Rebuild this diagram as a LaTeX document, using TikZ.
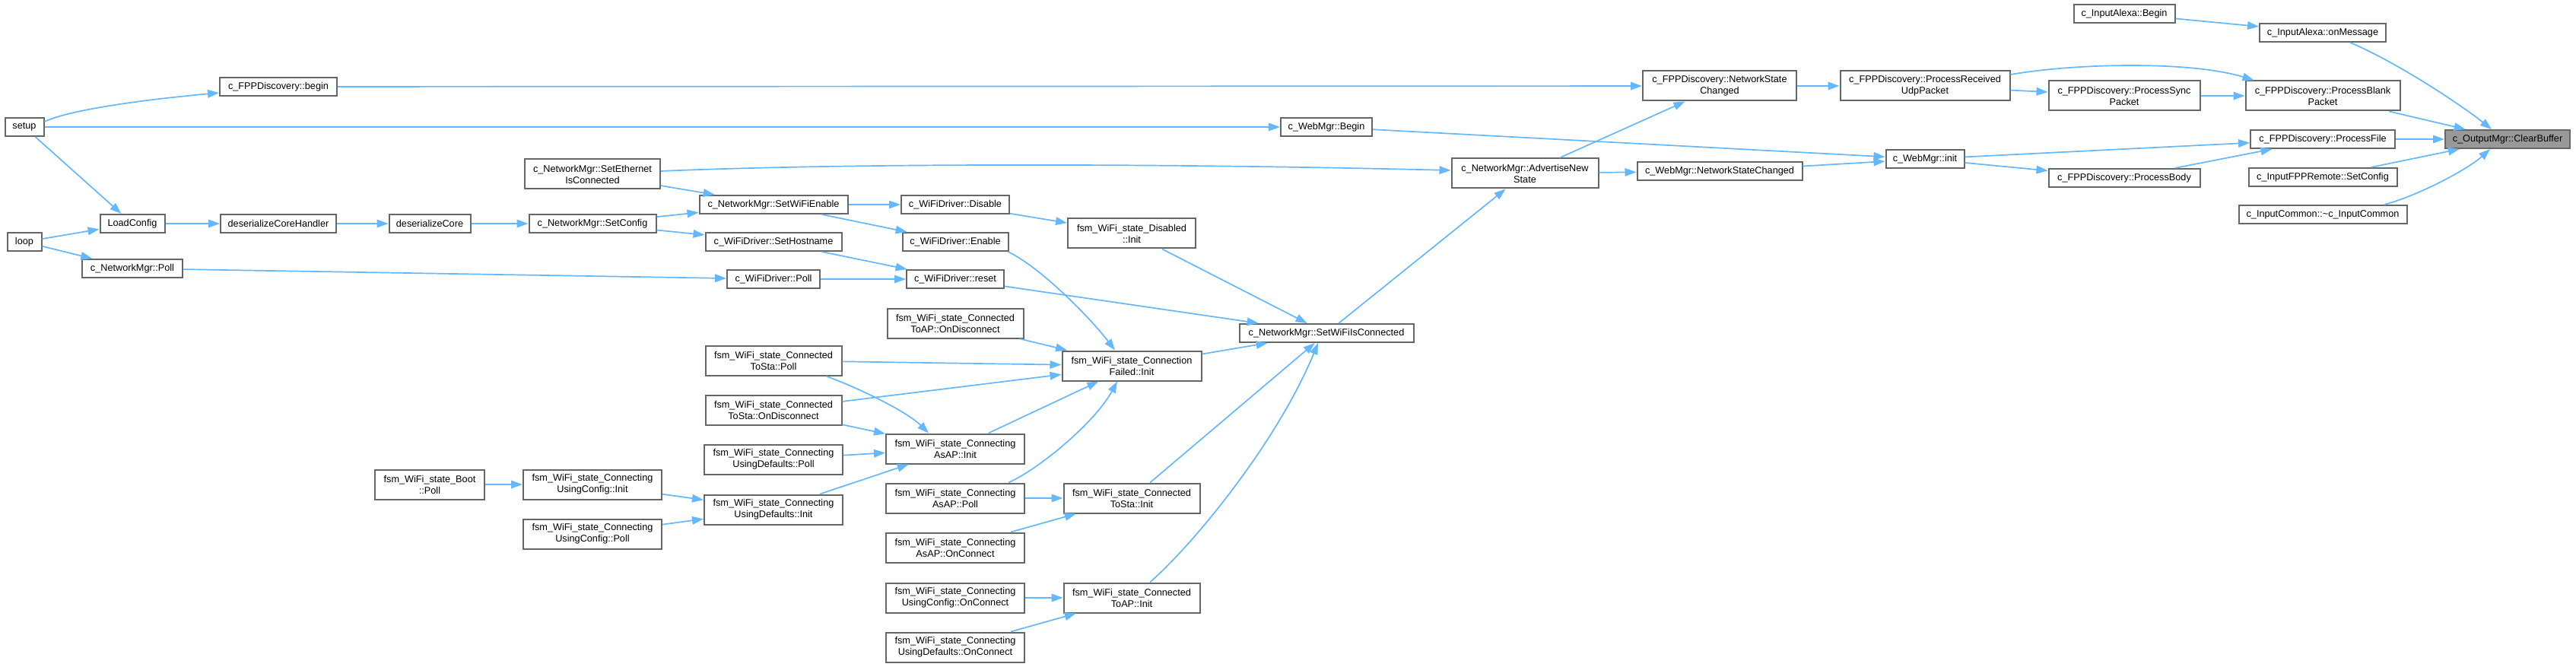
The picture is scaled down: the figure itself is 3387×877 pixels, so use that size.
\documentclass[tikz,border=0pt]{standalone}
\usepackage{fontspec}
\setmainfont{Liberation Sans}
\usetikzlibrary{arrows.meta,calc}
\definecolor{edgeblue}{HTML}{63B8FF}
\definecolor{boxgray}{HTML}{666666}
\definecolor{hlfill}{HTML}{999999}
\begin{document}
\begin{tikzpicture}[x=1pt,y=-1pt,
  fn/.style={draw=boxgray,line width=2pt,fill=white,inner sep=0pt,align=center,
    minimum height=24pt,font=\fontsize{12.7}{15}\selectfont},
  fnt/.style={fn,minimum height=39pt},
  hl/.style={fn,fill=hlfill},
  call/.style={draw=edgeblue,line width=1.7pt,-{Triangle[length=15pt,width=10.5pt]}}
]
\useasboundingbox[fill=white] (0,0) rectangle (3387,877);

% column 0-1
\node[fn,minimum width=51pt] (setup) at (32,167) {setup};
\node[fn,minimum width=45pt] (loop) at (32,318) {loop};
\node[fn,minimum width=85pt] (loadcfg) at (174,294) {LoadConfig};
\node[fn,minimum width=132pt] (nmpoll) at (174,353) {c\_NetworkMgr::Poll};
% column 2
\node[fn,minimum width=154pt] (fppbegin) at (366,114) {c\_FPPDiscovery::begin};
\node[fn,minimum width=152pt] (dch) at (366,294) {deserializeCoreHandler};
\node[fn,minimum width=107pt] (dc) at (565,294) {deserializeCore};
\node[fnt,minimum width=144pt] (bootpoll) at (565,637) {fsm\_WiFi\_state\_Boot\\::Poll};
% column 3
\node[fnt,minimum width=178pt] (seteth) at (779,229) {c\_NetworkMgr::SetEthernet\\IsConnected};
\node[fn,minimum width=167pt] (setcfg) at (779,294) {c\_NetworkMgr::SetConfig};
\node[fnt,minimum width=182pt] (ucinit) at (779,637) {fsm\_WiFi\_state\_Connecting\\UsingConfig::Init};
\node[fnt,minimum width=182pt] (ucpoll) at (779,702) {fsm\_WiFi\_state\_Connecting\\UsingConfig::Poll};
% column 4
\node[fn,minimum width=195pt] (wifien) at (1017,269) {c\_NetworkMgr::SetWiFiEnable};
\node[fn,minimum width=179pt] (sethost) at (1017,318) {c\_WiFiDriver::SetHostname};
\node[fn,minimum width=122pt] (wdpoll) at (1017,367) {c\_WiFiDriver::Poll};
\node[fnt,minimum width=179pt] (ctspoll) at (1017,474) {fsm\_WiFi\_state\_Connected\\ToSta::Poll};
\node[fnt,minimum width=179pt] (ctsdisc) at (1017,539) {fsm\_WiFi\_state\_Connected\\ToSta::OnDisconnect};
\node[fnt,minimum width=182pt] (udpoll) at (1017,604) {fsm\_WiFi\_state\_Connecting\\UsingDefaults::Poll};
\node[fnt,minimum width=182pt] (udinit) at (1017,670) {fsm\_WiFi\_state\_Connecting\\UsingDefaults::Init};
% column 5
\node[fn,minimum width=142pt] (disable) at (1256,269) {c\_WiFiDriver::Disable};
\node[fn,minimum width=139pt] (enable) at (1256,318) {c\_WiFiDriver::Enable};
\node[fn,minimum width=128pt] (reset) at (1256,367) {c\_WiFiDriver::reset};
\node[fnt,minimum width=179pt] (ctapdisc) at (1256,425) {fsm\_WiFi\_state\_Connected\\ToAP::OnDisconnect};
\node[fnt,minimum width=182pt] (asapinit) at (1256,590) {fsm\_WiFi\_state\_Connecting\\AsAP::Init};
\node[fnt,minimum width=182pt] (asappoll) at (1256,655) {fsm\_WiFi\_state\_Connecting\\AsAP::Poll};
\node[fnt,minimum width=182pt] (asapconn) at (1256,720) {fsm\_WiFi\_state\_Connecting\\AsAP::OnConnect};
\node[fnt,minimum width=182pt] (ucconn) at (1256,786) {fsm\_WiFi\_state\_Connecting\\UsingConfig::OnConnect};
\node[fnt,minimum width=182pt] (udconn) at (1256,851) {fsm\_WiFi\_state\_Connecting\\UsingDefaults::OnConnect};
% column 6
\node[fnt,minimum width=168pt] (disinit) at (1488,307) {fsm\_WiFi\_state\_Disabled\\::Init};
\node[fnt,minimum width=183pt] (cfinit) at (1488,481) {fsm\_WiFi\_state\_Connection\\Failed::Init};
\node[fnt,minimum width=179pt] (ctsinit) at (1488,655) {fsm\_WiFi\_state\_Connected\\ToSta::Init};
\node[fnt,minimum width=179pt] (ctapinit) at (1488,786) {fsm\_WiFi\_state\_Connected\\ToAP::Init};
% column 7-8
\node[fn,minimum width=120pt] (webbegin) at (1744,167) {c\_WebMgr::Begin};
\node[fn,minimum width=229pt] (wifiis) at (1744,438) {c\_NetworkMgr::SetWiFiIsConnected};
\node[fnt,minimum width=193pt] (adv) at (2005,228) {c\_NetworkMgr::AdvertiseNew\\State};
% column 9-10
\node[fnt,minimum width=202pt] (fppnsc) at (2261,113) {c\_FPPDiscovery::NetworkState\\Changed};
\node[fn,minimum width=217pt] (webnsc) at (2261,225) {c\_WebMgr::NetworkStateChanged};
\node[fnt,minimum width=223pt] (udp) at (2531,113) {c\_FPPDiscovery::ProcessReceived\\UdpPacket};
\node[fn,minimum width=103pt] (webinit) at (2531,209) {c\_WebMgr::init};
% column 11
\node[fn,minimum width=133pt] (alexabegin) at (2793,18) {c\_InputAlexa::Begin};
\node[fnt,minimum width=199pt] (sync) at (2793,126) {c\_FPPDiscovery::ProcessSync\\Packet};
\node[fn,minimum width=199pt] (body) at (2793,234) {c\_FPPDiscovery::ProcessBody};
% column 12
\node[fn,minimum width=166pt] (onmsg) at (3054,43) {c\_InputAlexa::onMessage};
\node[fnt,minimum width=203pt] (blank) at (3054,126) {c\_FPPDiscovery::ProcessBlank\\Packet};
\node[fn,minimum width=190pt] (pfile) at (3054,183) {c\_FPPDiscovery::ProcessFile};
\node[fn,minimum width=195pt] (remote) at (3054,233) {c\_InputFPPRemote::SetConfig};
\node[fn,minimum width=221pt] (icommon) at (3054,282) {c\_InputCommon::\textasciitilde c\_InputCommon};
% column 13
\node[hl,minimum width=164pt] (clear) at (3297,183) {c\_OutputMgr::ClearBuffer};

% ---- edges ----
\draw[call] (alexabegin) -- (onmsg);
\draw[call] ($(onmsg.south)+(36,0)$) .. controls (3150,81) and (3236,138) .. ($(clear.north)+(-21,0)$);
\draw[call] (blank) -- (clear);
\draw[call] (pfile) -- (clear);
\draw[call] (remote) -- (clear);
\draw[call] ($(icommon.north)+(81,0)$) .. controls (3180,257) and (3244,223) .. ($(clear.south)+(-23,0)$);

\draw[call] ($(udp.east)+(0,-15)$) .. controls (2730,83) and (2880,80) .. ($(blank.north west)+(12,0)$);
\draw[call] (udp) -- (sync);
\draw[call] (sync) -- (blank);
\draw[call] (fppnsc) -- (udp);
\draw[call] (fppbegin) -- (fppnsc);
\draw[call] (adv) -- (fppnsc);
\draw[call] (adv) -- (webnsc);
\draw[call] (webnsc) -- (webinit);
\draw[call] (webbegin) -- (webinit);
\draw[call] (webinit) -- (pfile);
\draw[call] (webinit) -- (body);
\draw[call] (body) -- (pfile);

\draw[call] ($(setup.east)+(0,-7)$) .. controls (90,145) and (180,132) .. ($(fppbegin.west)+(0,8)$);
\draw[call] (setup) -- (webbegin);
\draw[call] (setup) -- (loadcfg);
\draw[call] (loop) -- (loadcfg);
\draw[call] (loop) -- (nmpoll);
\draw[call] (loadcfg) -- (dch);
\draw[call] (dch) -- (dc);
\draw[call] (dc) -- (setcfg);
\draw[call] (setcfg) -- (wifien);
\draw[call] (setcfg) -- (sethost);
\draw[call] (seteth) -- (wifien);
\draw[call] ($(seteth.east)+(0,-4)$) .. controls (1100,215) and (1500,214) .. ($(adv.west)+(0,-4)$);
\draw[call] (wifien) -- (disable);
\draw[call] (wifien) -- (enable);
\draw[call] (sethost) -- (reset);
\draw[call] (nmpoll) -- (wdpoll);
\draw[call] (wdpoll) -- (reset);
\draw[call] (disable) -- (disinit);
\draw[call] ($(enable.south east)+(-1,0)$) .. controls (1367,351) and (1431,415) .. ($(cfinit.north)+(-22,0)$);
\draw[call] (reset) -- (wifiis);
\draw[call] (disinit) -- (wifiis);
\draw[call] (wifiis) -- (adv);

\draw[call] (ctapdisc) -- (cfinit);
\draw[call] (ctspoll) -- (cfinit);
\draw[call] ($(ctspoll.south)+(69,0)$) .. controls (1126,509) and (1191,540) .. ($(asapinit.north)+(-35,0)$);
\draw[call] (ctsdisc) -- (cfinit);
\draw[call] (ctsdisc) -- (asapinit);
\draw[call] (udpoll) -- (asapinit);
\draw[call] (udinit) -- (asapinit);
\draw[call] (asapinit) -- (cfinit);
\draw[call] ($(asappoll.north)+(70,0)$) .. controls (1366,617) and (1440,555) .. ($(cfinit.south)+(-19,0)$);
\draw[call] (asappoll) -- (ctsinit);
\draw[call] (asapconn) -- (ctsinit);
\draw[call] (cfinit) -- (wifiis);
\draw[call] (ctsinit) -- (wifiis);
\draw[call] ($(ctapinit.north)+(24,0)$) .. controls (1570,715) and (1680,580) .. ($(wifiis.south)+(-11,0)$);
\draw[call] (ucconn) -- (ctapinit);
\draw[call] (udconn) -- (ctapinit);
\draw[call] (bootpoll) -- (ucinit);
\draw[call] (ucinit) -- (udinit);
\draw[call] (ucpoll) -- (udinit);
\end{tikzpicture}
\end{document}
